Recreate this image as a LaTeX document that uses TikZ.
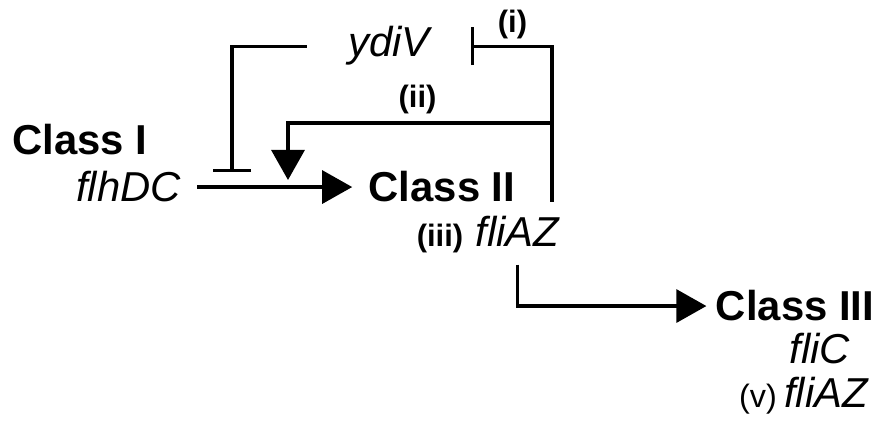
\documentclass[tikz,border=0pt]{standalone}
\usepackage{fontspec}
\setmainfont{Liberation Sans}
\usetikzlibrary{arrows.meta}
\begin{document}
\begin{tikzpicture}[line width=0.9pt,
    act/.style={-{Triangle[length=3mm,width=3.3mm]}},
    rep/.style={-{Bar[width=3.8mm]}},
    cls/.style={font=\fontsize{11.9}{14}\selectfont\bfseries,
      inner xsep=1.5mm,inner ysep=0pt},
    gene/.style={font=\fontsize{11.9}{14}\selectfont\itshape,
      inner xsep=1.5mm,inner ysep=0pt},
    lbl/.style={font=\fontsize{8.8}{10}\selectfont\bfseries,inner sep=0pt}]
    \useasboundingbox (0,0) rectangle (8.80,-4.28);
    \node[cls,anchor=base] (classI) at (0.80,-1.55) {Class I};
    \node[gene,anchor=base] (flhDC) at (1.285,-2.02) {flhDC};
    \node[cls,anchor=base] (classII) at (4.42,-2.02) {Class II};
    \node[lbl,anchor=base] (lblIII) at (4.40,-2.47) {(iii)};
    \node[gene,anchor=base] (fliAZii) at (5.175,-2.47) {fliAZ};
    \node[gene,anchor=base,inner xsep=4mm] (ydiV) at (3.89,-0.57) {ydiV};
    \node[lbl,anchor=base] (lblI) at (5.125,-0.33) {(i)};
    \node[lbl,anchor=base] (lblII) at (4.175,-1.08) {(ii)};
    \node[cls,anchor=base,inner xsep=0.8mm] (classIII) at (7.95,-3.21)
      {Class III};
    \node[gene,anchor=base] (fliC) at (8.20,-3.64) {fliC};
    \node[lbl,anchor=base,font=\fontsize{9.2}{10}\selectfont] (lblV)
      at (7.58,-4.08) {(v)};
    \node[gene,anchor=base] (fliAZiii) at (8.26,-4.08) {fliAZ};
    \coordinate (jI) at (2.32,-1.72);
    \coordinate (jII) at (2.88,-1.80);
    \coordinate (fbk) at (5.52,-2.02);
    \coordinate (brII) at (5.52,-1.23);
    \draw[act] (flhDC.east) -- (flhDC.east -| classII.west);
    \draw[rep] (ydiV.west) -| (jI);
    \draw[rep] (fbk) |- (ydiV.east);
    \draw[act] (brII) -| (jII);
    \draw[act,shorten <=1.6mm] (fliAZii.south) |- (classIII.west);
  \end{tikzpicture}
\end{document}
